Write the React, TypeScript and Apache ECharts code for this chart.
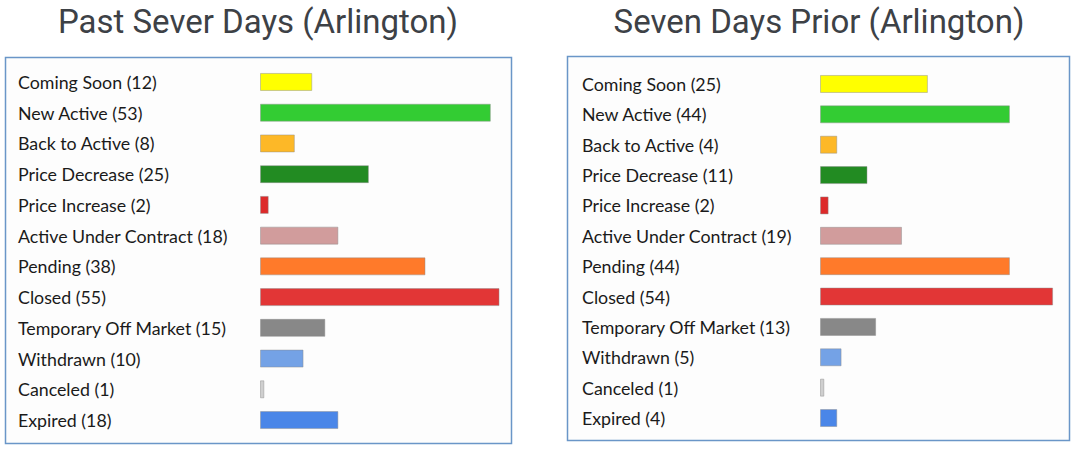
import React, { useEffect, useRef } from "react";
import * as echarts from "echarts";

const categories = [
  "Coming Soon",
  "New Active",
  "Back to Active",
  "Price Decrease",
  "Price Increase",
  "Active Under Contract",
  "Pending",
  "Closed",
  "Temporary Off Market",
  "Withdrawn",
  "Canceled",
  "Expired",
];

const pastSevenDays = [12, 53, 8, 25, 2, 18, 38, 55, 15, 10, 1, 18];
const sevenDaysPrior = [25, 44, 4, 11, 2, 19, 44, 54, 13, 5, 1, 4];

const barColors = [
  "#ffff00",
  "#33cc33",
  "#fdb827",
  "#228b22",
  "#dd2a2a",
  "#d19c9c",
  "#ff7a2a",
  "#e23636",
  "#888888",
  "#74a2e6",
  "#cfcfcf",
  "#4a86e8",
];

const titles = ["Past Sever Days (Arlington)", "Seven Days Prior (Arlington)"];

const labelFont = "Lato, 'Noto Sans', sans-serif";
const titleFont = "Roboto, 'Noto Sans', sans-serif";

function makeData(values: number[]) {
  return values.map((v, i) => ({
    value: v,
    itemStyle: {
      color: barColors[i],
      borderColor: "rgba(140,140,140,0.45)",
      borderWidth: 1,
    },
  }));
}

function labelsFor(values: number[]) {
  return categories.map((c, i) => `${c} (${values[i]})`);
}

export default function App() {
  const ref = useRef<HTMLDivElement>(null);
  useEffect(() => {
    if (!ref.current) return;
    const chart = echarts.init(ref.current, undefined, { renderer: "svg" });
    const xMax = 60;
    const pxPerUnit = 4.355;
    const gridW = xMax * pxPerUnit;
    const yAxisCommon = (values: number[], gridIndex: number, margin: number) => ({
      type: "category" as const,
      gridIndex,
      inverse: true,
      data: labelsFor(values),
      axisLine: { show: false },
      axisTick: { show: false },
      splitLine: { show: false },
      axisLabel: {
        align: "left" as const,
        margin,
        color: "#1a1a1a",
        fontSize: 17.8,
        fontFamily: labelFont,
      },
    });
    const xAxisCommon = (gridIndex: number) => ({
      type: "value" as const,
      gridIndex,
      min: 0,
      max: xMax,
      show: false,
    });
    chart.setOption({
      animation: false,
      backgroundColor: "#ffffff",
      graphic: [
        {
          type: "rect",
          z: -10,
          shape: { x: 5.5, y: 57.5, width: 506, height: 386 },
          style: { fill: "#fdfdfd", stroke: "#6a96c8", lineWidth: 1.5 },
        },
        {
          type: "rect",
          z: -10,
          shape: { x: 567.5, y: 56.5, width: 502, height: 384 },
          style: { fill: "#fdfdfd", stroke: "#6a96c8", lineWidth: 1.5 },
        },
        {
          type: "text",
          x: 258,
          y: 21,
          style: {
            text: titles[0],
            fontSize: 33,
            fontFamily: titleFont,
            fill: "#3d4146",
            align: "center",
            verticalAlign: "middle",
          },
        },
        {
          type: "text",
          x: 819,
          y: 21,
          style: {
            text: titles[1],
            fontSize: 33,
            fontFamily: titleFont,
            fill: "#3d4146",
            align: "center",
            verticalAlign: "middle",
          },
        },
      ],
      grid: [
        { left: 260, top: 66.6, width: gridW, height: 368.8 },
        { left: 820, top: 68.8, width: gridW, height: 364.4 },
      ],
      xAxis: [xAxisCommon(0), xAxisCommon(1)],
      yAxis: [yAxisCommon(pastSevenDays, 0, 242), yAxisCommon(sevenDaysPrior, 1, 238)],
      series: [
        {
          type: "bar",
          xAxisIndex: 0,
          yAxisIndex: 0,
          barWidth: 18,
          data: makeData(pastSevenDays),
        },
        {
          type: "bar",
          xAxisIndex: 1,
          yAxisIndex: 1,
          barWidth: 18,
          data: makeData(sevenDaysPrior),
        },
      ],
    });
    return () => chart.dispose();
  }, []);
  return (
    <div
      ref={ref}
      style={{ position: "fixed", left: 0, top: 0, width: 1079, height: 452 }}
    />
  );
}
